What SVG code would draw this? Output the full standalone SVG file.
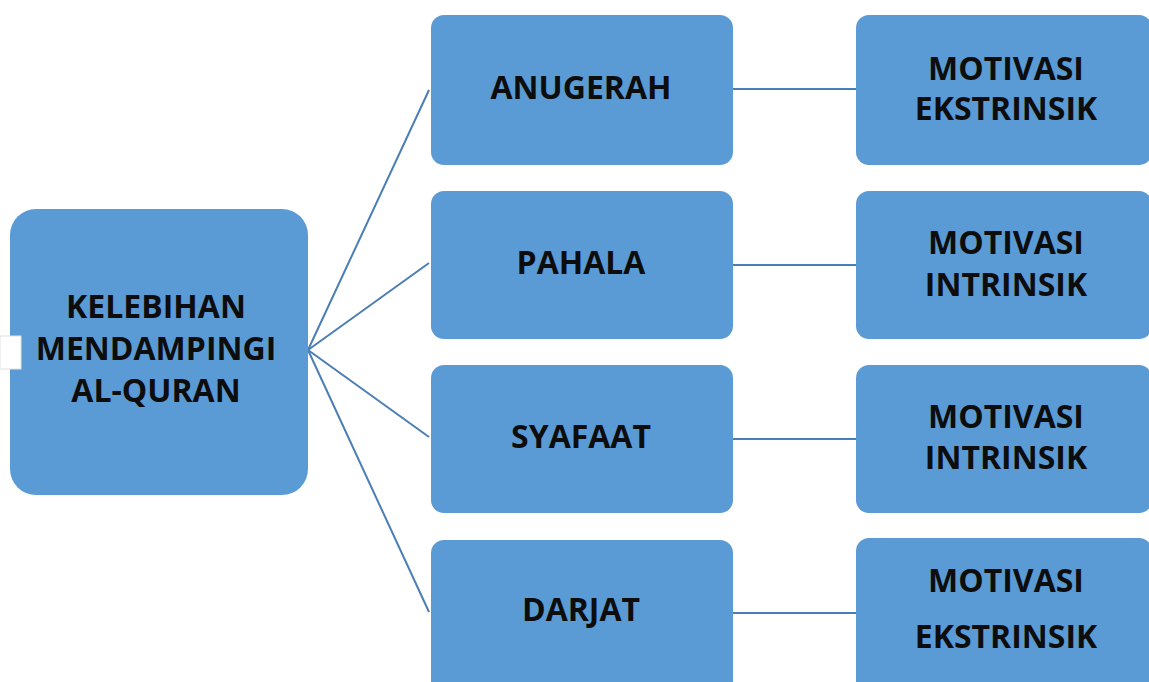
<svg xmlns="http://www.w3.org/2000/svg" width="1149" height="682" viewBox="0 0 1149 682">
<style>
.box{fill:#5b9bd5;}
.t{font-family:"Open Sans","Liberation Sans",sans-serif;font-weight:bold;font-size:32px;fill:#0d0d0d;text-anchor:middle;}
.c{stroke:#4a7eb5;stroke-width:2;fill:none;}
</style>
<rect width="1149" height="682" fill="#ffffff"/>
<g id="connectors">
<line class="c" x1="308" y1="350" x2="429" y2="90"/>
<line class="c" x1="308" y1="350" x2="429" y2="263"/>
<line class="c" x1="308" y1="350" x2="429" y2="437"/>
<line class="c" x1="308" y1="350" x2="429" y2="612"/>
<line class="c" x1="733" y1="89" x2="856" y2="89"/>
<line class="c" x1="733" y1="265" x2="856" y2="265"/>
<line class="c" x1="733" y1="439" x2="856" y2="439"/>
<line class="c" x1="733" y1="613" x2="856" y2="613"/>
</g>
<g id="root">
<rect class="box" x="10" y="209" width="298" height="286" rx="26"/>
<text class="t" x="156" y="318">KELEBIHAN</text>
<text class="t" x="156" y="360">MENDAMPINGI</text>
<text class="t" x="156" y="402">AL-QURAN</text>
</g>
<rect x="0" y="336" width="21" height="33" fill="#ffffff" stroke="#e0e0e0" stroke-width="1"/>
<g id="anugerah">
<rect class="box" x="431" y="15" width="302" height="150" rx="13"/>
<text class="t" x="581" y="99">ANUGERAH</text>
</g>
<g id="pahala">
<rect class="box" x="431" y="191" width="302" height="148" rx="13"/>
<text class="t" x="581" y="274">PAHALA</text>
</g>
<g id="syafaat">
<rect class="box" x="431" y="365" width="302" height="148" rx="13"/>
<text class="t" x="581" y="448">SYAFAAT</text>
</g>
<g id="darjat">
<rect class="box" x="431" y="540" width="302" height="160" rx="13"/>
<text class="t" x="581" y="621">DARJAT</text>
</g>
<g id="motivasi1">
<rect class="box" x="856" y="15" width="296" height="150" rx="13"/>
<text class="t" x="1006" y="80">MOTIVASI</text>
<text class="t" x="1006" y="120">EKSTRINSIK</text>
</g>
<g id="motivasi2">
<rect class="box" x="856" y="191" width="296" height="148" rx="13"/>
<text class="t" x="1006" y="254">MOTIVASI</text>
<text class="t" x="1006" y="296">INTRINSIK</text>
</g>
<g id="motivasi3">
<rect class="box" x="856" y="365" width="296" height="148" rx="13"/>
<text class="t" x="1006" y="428">MOTIVASI</text>
<text class="t" x="1006" y="469">INTRINSIK</text>
</g>
<g id="motivasi4">
<rect class="box" x="856" y="538" width="296" height="160" rx="13"/>
<text class="t" x="1006" y="592">MOTIVASI</text>
<text class="t" x="1006" y="648">EKSTRINSIK</text>
</g>
</svg>
